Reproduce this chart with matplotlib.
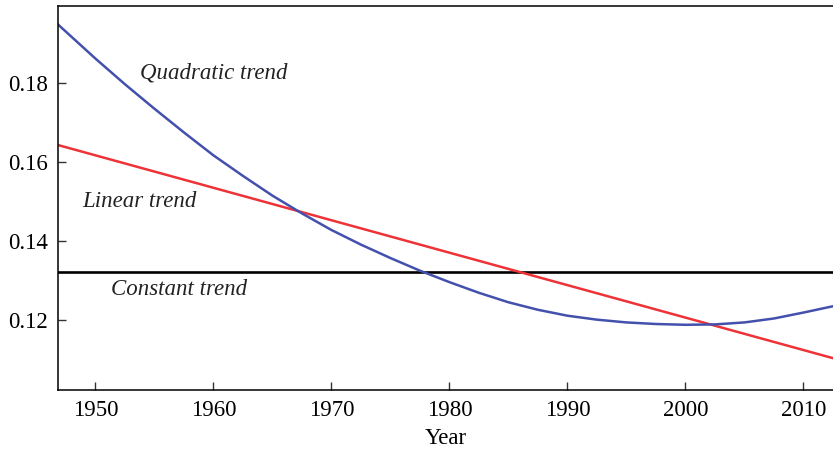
import matplotlib
matplotlib.use("Agg")
import matplotlib.pyplot as plt

# valores
anos_quad = [1946.84, 1947.5, 1950, 1952.5, 1955, 1957.5, 1960, 1962.5, 1965, 1967.5,
             1970, 1972.5, 1975, 1977.5, 1980, 1982.5, 1985, 1987.5, 1990, 1992.5,
             1995, 1997.5, 2000, 2002.5, 2005, 2007.5, 2010, 2012.5]
quadratica = [0.1948, 0.1930, 0.1862, 0.1797, 0.1735, 0.1675, 0.1617, 0.1565, 0.1515, 0.1470,
              0.1428, 0.1391, 0.1357, 0.1325, 0.1296, 0.1269, 0.1245, 0.1226, 0.1211, 0.1201,
              0.1194, 0.1190, 0.1188, 0.1189, 0.1194, 0.1204, 0.1219, 0.1235]

anos_lin = [1945, 2015]
linear = [0.1658, 0.1083]

anos_const = [1945, 2015]
constante = [0.1322, 0.1322]

rotulos = ["Quadratic trend", "Linear trend", "Constant trend"]
pos_rotulos = [(1953.8, 0.1825), (1948.9, 0.1500), (1951.3, 0.1278)]

plt.rcParams['font.family'] = ['Liberation Serif', 'DejaVu Serif']

fig = plt.figure(figsize=(8.33, 4.5), dpi=100)
ax = fig.add_axes([58/833, 60/450, 775/833, 384.5/450])

ax.plot(anos_const, constante, color='black', lw=1.9, solid_capstyle='butt')
ax.plot(anos_lin, linear, color='#ee3338', lw=1.8)
ax.plot(anos_quad, quadratica, color='#4351ad', lw=1.8)

for txt, (x, y) in zip(rotulos, pos_rotulos):
    ax.text(x, y, txt, fontsize=16.5, style='italic', ha='left', va='center', color='#222222')

ax.set_xlim(1946.84, 2012.5)
ax.set_ylim(0.1023, 0.1996)
ax.set_xticks([1950, 1960, 1970, 1980, 1990, 2000, 2010])
ax.set_yticks([0.12, 0.14, 0.16, 0.18])
ax.set_yticklabels(['0.12', '0.14', '0.16', '0.18'])
ax.tick_params(direction='in', length=6, width=1, labelsize=16.5, pad=7, color='#333333')
ax.set_xlabel('Year', fontsize=16.5, labelpad=5)

ax.spines['right'].set_visible(False)
for s in ['left', 'bottom', 'top']:
    ax.spines[s].set_linewidth(1.1)

fig.savefig('out.png', dpi=100)
